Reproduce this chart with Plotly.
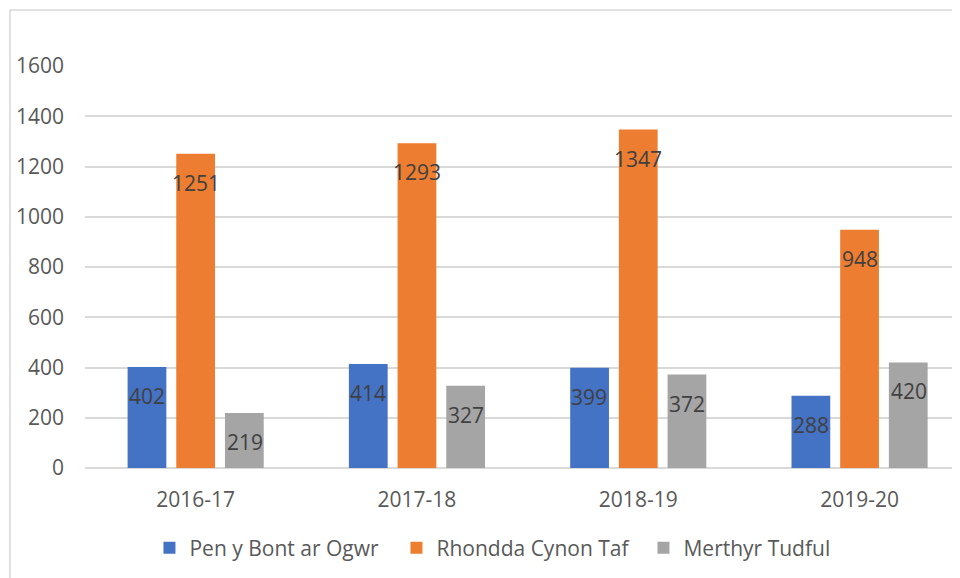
import plotly.graph_objects as go

years = ["2016-17", "2017-18", "2018-19", "2019-20"]
series_names = ["Pen y Bont ar Ogwr", "Rhondda Cynon Taf", "Merthyr Tudful"]
pen_y_bont = [402, 414, 399, 288]
rhondda = [1251, 1293, 1347, 948]
merthyr = [219, 327, 372, 420]

colors = ["#4472C4", "#ED7D31", "#A5A5A5"]  # Excel blue / orange / grey
FONT = "Open Sans"
FS = 21

fig = go.Figure()
for name, vals, col in zip(series_names, [pen_y_bont, rhondda, merthyr], colors):
    fig.add_trace(go.Bar(x=years, y=vals, name=name, marker_color=col,
                         marker_line_width=0))

# data labels just inside the bar top (Excel "inside end")
shifts = [-49, 0, 49]
for vals, dx in zip([pen_y_bont, rhondda, merthyr], shifts):
    for yr, v in zip(years, vals):
        fig.add_annotation(x=yr, y=v, text=str(v), showarrow=False,
                           xshift=dx, yshift=-13, yanchor="top",
                           font=dict(family=FONT, size=FS, color="#404040"))

# chart frame (cut at right/bottom like the screenshot)
fig.add_shape(type="rect", xref="paper", yref="paper",
              x0=-0.085, y0=-0.5, x1=1.2, y1=1.139,
              line=dict(color="#D9D9D9", width=1.5), layer="below")

fig.update_layout(
    width=960, height=578, autosize=False,
    margin=dict(l=77, r=0, t=58, b=118, autoexpand=False),
    paper_bgcolor="white", plot_bgcolor="white",
    barmode="group", bargap=0.34, bargroupgap=0.204,
    font=dict(family=FONT, size=FS, color="#595959"),
    showlegend=True,
    legend=dict(orientation="h", x=0.073, xanchor="left",
                y=-0.199, yanchor="middle", font=dict(size=FS, color="#595959"),
                entrywidth=202, traceorder="normal"),
)
fig.update_xaxes(range=[-0.5, 3.49], showline=False, showgrid=False,
                 ticks="", ticklabelstandoff=17)
fig.update_yaxes(range=[0, 1600], dtick=200, showgrid=True, gridcolor="#D9D9D9",
                 gridwidth=1.5, zeroline=True, zerolinecolor="#D9D9D9",
                 zerolinewidth=1.5, ticks="", ticklabelstandoff=20, showline=False)

fig.write_html("out.html")
